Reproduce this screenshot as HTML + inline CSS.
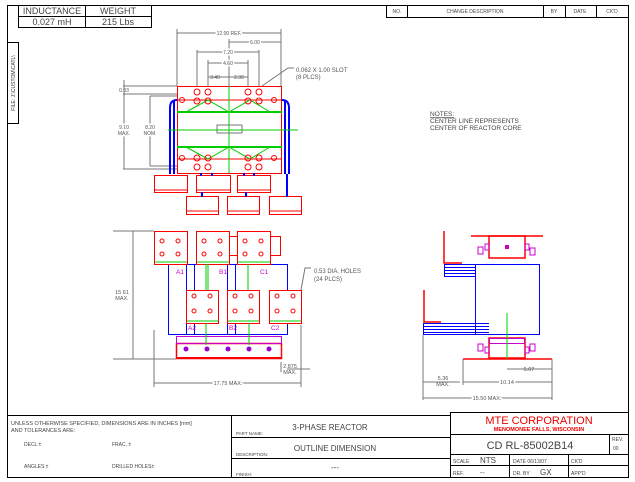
<!DOCTYPE html>
<html><head><meta charset="utf-8"><style>
html,body{margin:0;padding:0;background:#fff;}
svg{display:block;}
text{font-family:"Liberation Sans",sans-serif;}
</style></head><body>
<svg width="635" height="482" viewBox="0 0 635 482" xmlns="http://www.w3.org/2000/svg">
<g fill="none" stroke="#000" stroke-width="1">
<rect x="7.5" y="5.5" width="621" height="472"/>
<!-- inductance table -->
<rect x="18.5" y="5.5" width="133" height="22"/>
<line x1="85.5" y1="5" x2="85.5" y2="27"/>
<line x1="18" y1="16.5" x2="151" y2="16.5"/>
<rect x="7.5" y="42.5" width="11" height="81"/>
<!-- change table -->
<rect x="386.5" y="5.5" width="242" height="12"/>
<line x1="407.5" y1="5" x2="407.5" y2="17"/>
<line x1="543.5" y1="5" x2="543.5" y2="17"/>
<line x1="565.5" y1="5" x2="565.5" y2="17"/>
<line x1="596.5" y1="5" x2="596.5" y2="17"/>
<!-- title block -->
<line x1="7" y1="415.5" x2="450" y2="415.5"/>
<line x1="231.5" y1="415" x2="231.5" y2="478"/>
<line x1="231" y1="437.5" x2="450" y2="437.5"/>
<line x1="231" y1="458.5" x2="450" y2="458.5"/>
<rect x="450.5" y="412.5" width="178" height="65"/>
<line x1="450" y1="434.5" x2="628" y2="434.5"/>
<line x1="450" y1="454.5" x2="628" y2="454.5"/>
<line x1="450" y1="465.5" x2="628" y2="465.5"/>
<line x1="609.5" y1="434" x2="609.5" y2="454"/>
<line x1="509.5" y1="454" x2="509.5" y2="478"/>
<line x1="568.5" y1="454" x2="568.5" y2="478"/>
</g>
<g font-size="9" fill="#444" text-anchor="middle">
<text x="52" y="14">INDUCTANCE</text><text x="118" y="14">WEIGHT</text>
<text x="52" y="25">0.027 mH</text><text x="118" y="25">215 Lbs</text>
</g>
<text x="15" y="83" font-size="5" fill="#333" text-anchor="middle" transform="rotate(-90 15 83)">FILE: J:\CUSTOM\CATL\</text>
<g font-size="5" fill="#444" text-anchor="middle">
<text x="397" y="13">NO.</text><text x="475" y="13">CHANGE DESCRIPTION</text><text x="554" y="13">BY</text><text x="580" y="13">DATE</text><text x="612" y="13">CK'D</text>
</g>
<g font-size="6.5" fill="#444">
<text x="430" y="116" text-decoration="underline">NOTES:</text>
<text x="430" y="123">CENTER LINE REPRESENTS</text>
<text x="430" y="130">CENTER OF REACTOR CORE</text>
<text x="11" y="425" font-size="5.5">UNLESS OTHERWISE SPECIFIED, DIMENSIONS ARE IN INCHES [mm]</text>
<text x="11" y="432" font-size="5.5">AND TOLERANCES ARE:</text>
<text x="24" y="446" font-size="5">DECL ±</text><text x="112" y="446" font-size="5">FRAC. ±</text>
<text x="24" y="468" font-size="5">ANGLES ±</text><text x="112" y="468" font-size="5">DRILLED HOLES±</text>
<text x="236" y="435" font-size="4.5">PART NAME:</text>
<text x="236" y="456" font-size="4.5">DESCRIPTION:</text>
<text x="236" y="476" font-size="4.5">FINISH:</text>
<text x="330" y="430" font-size="8" text-anchor="middle">3-PHASE REACTOR</text>
<text x="335" y="451" font-size="8" text-anchor="middle">OUTLINE DIMENSION</text>
<text x="335" y="470" font-size="8" text-anchor="middle">---</text>
<text x="539" y="424" font-size="11" fill="#e00" text-anchor="middle">MTE CORPORATION</text>
<text x="539" y="431" font-size="5.5" fill="#e00" text-anchor="middle" font-weight="bold">MENOMONEE FALLS, WISCONSIN</text>
<text x="530" y="449" font-size="11" text-anchor="middle">CD RL-85002B14</text>
<text x="612" y="441" font-size="5">REV.</text><text x="613" y="450" font-size="5">00</text>
<text x="453" y="463" font-size="5">SCALE</text><text x="480" y="463" font-size="8">NTS</text>
<text x="513" y="463" font-size="5">DATE 06/13/07</text><text x="571" y="463" font-size="5">CK'D</text>
<text x="453" y="475" font-size="5">REF.</text><text x="480" y="475" font-size="7">--</text>
<text x="513" y="475" font-size="5">DR. BY</text><text x="540" y="475" font-size="8">GX</text><text x="571" y="475" font-size="5">APP'D</text>
</g>
<!-- TOP VIEW -->
<g stroke="#777" stroke-width="1" fill="none">
<line x1="177" y1="33" x2="281" y2="33"/><line x1="177" y1="29" x2="177" y2="86"/><line x1="281" y1="29" x2="281" y2="86"/>
<line x1="229" y1="42" x2="281" y2="42"/><line x1="229" y1="39" x2="229" y2="86"/>
<line x1="197" y1="52" x2="259" y2="52"/><line x1="197" y1="50" x2="197" y2="86"/><line x1="259" y1="50" x2="259" y2="86"/>
<line x1="208" y1="63" x2="248" y2="63"/><line x1="208" y1="60" x2="208" y2="86"/><line x1="248" y1="60" x2="248" y2="86"/>
<line x1="208" y1="77" x2="248" y2="77"/>
<line x1="123" y1="86" x2="177" y2="86"/><line x1="123" y1="94" x2="177" y2="94"/>
<line x1="123" y1="169" x2="177" y2="169"/><line x1="150" y1="96" x2="177" y2="96"/><line x1="150" y1="166" x2="177" y2="166"/>
<line x1="124" y1="80" x2="124" y2="169"/><line x1="150" y1="96" x2="150" y2="166"/>
<polyline points="262,86 288,68 294,68"/>
</g>
<g font-size="5" fill="#555" text-anchor="middle">
<text x="229" y="35" fill="#555" style="paint-order:stroke" stroke="#fff" stroke-width="3">12.00 REF.</text>
<text x="255" y="44" stroke="#fff" stroke-width="3" style="paint-order:stroke">6.00</text>
<text x="228" y="54" stroke="#fff" stroke-width="3" style="paint-order:stroke">7.20</text>
<text x="228" y="65" stroke="#fff" stroke-width="3" style="paint-order:stroke">4.60</text>
<text x="215" y="79">3.40</text><text x="239" y="79">2.30</text>
<text x="124" y="92">0.33</text>
<text x="124" y="129" stroke="#fff" stroke-width="3" style="paint-order:stroke">9.10</text><text x="124" y="135" stroke="#fff" stroke-width="3" style="paint-order:stroke">MAX.</text>
<text x="150" y="129" stroke="#fff" stroke-width="3" style="paint-order:stroke">8.20</text><text x="150" y="135" stroke="#fff" stroke-width="3" style="paint-order:stroke">NOM.</text>
<text x="296" y="72" text-anchor="start" font-size="6">0.062 X 1.00 SLOT</text>
<text x="296" y="79" text-anchor="start" font-size="6">(8 PLCS)</text>
</g>
<g fill="none">
<path d="M177,100 Q170,100 170,108 V174 M174,100 V174 M282,100 Q289,100 289,108 V174 M285,100 V174" stroke="#00f" stroke-width="2"/>
<rect x="177.5" y="86.5" width="104" height="87" stroke="#f00"/>
<line x1="177" y1="100" x2="282" y2="100" stroke="#f00"/>
<line x1="177" y1="159" x2="282" y2="159" stroke="#f00"/>
<line x1="177" y1="112" x2="282" y2="112" stroke="#0c0" stroke-width="2"/>
<line x1="177" y1="147" x2="282" y2="147" stroke="#0c0" stroke-width="2"/>
<line x1="168" y1="130" x2="298" y2="130" stroke="#0c0"/>
<line x1="229" y1="86" x2="229" y2="173" stroke="#0c0"/>
<polyline points="186,112 208,100 229,112 250,100 270,112" stroke="#0c0"/>
<polyline points="186,147 208,159 229,147 250,159 270,147" stroke="#0c0"/>
<rect x="217" y="125" width="25" height="8" stroke="#777"/>
<g stroke="#f00"><circle cx="197" cy="92" r="3"/><circle cx="208" cy="92" r="3"/><circle cx="248" cy="92" r="3"/><circle cx="259" cy="92" r="3"/>
<circle cx="197" cy="101" r="3"/><circle cx="208" cy="101" r="3"/><circle cx="248" cy="101" r="3"/><circle cx="259" cy="101" r="3"/>
<circle cx="197" cy="158" r="3"/><circle cx="208" cy="158" r="3"/><circle cx="248" cy="158" r="3"/><circle cx="259" cy="158" r="3"/>
<circle cx="197" cy="167" r="3"/><circle cx="208" cy="167" r="3"/><circle cx="248" cy="167" r="3"/><circle cx="259" cy="167" r="3"/>
<circle cx="182" cy="100" r="2.5"/><circle cx="182" cy="158" r="2.5"/><circle cx="274" cy="100" r="2.5"/><circle cx="274" cy="158" r="2.5"/></g>
<g stroke="#f00">
<rect x="154.5" y="175.5" width="33" height="17"/><rect x="196.5" y="175.5" width="34" height="17"/><rect x="237.5" y="175.5" width="33" height="17"/>
<rect x="186.5" y="196.5" width="32" height="18"/><rect x="227.5" y="196.5" width="32" height="18"/><rect x="269.5" y="196.5" width="32" height="18"/>
<line x1="154" y1="190" x2="188" y2="190"/><line x1="196" y1="190" x2="231" y2="190"/><line x1="237" y1="190" x2="271" y2="190"/>
<line x1="186" y1="211" x2="219" y2="211"/><line x1="227" y1="211" x2="260" y2="211"/><line x1="269" y1="211" x2="302" y2="211"/>
</g>
<g stroke="#00f" stroke-width="2"><line x1="201" y1="173" x2="201" y2="176"/><line x1="212" y1="173" x2="212" y2="176"/><line x1="244" y1="173" x2="244" y2="176"/><line x1="254" y1="173" x2="254" y2="176"/>
<line x1="202" y1="192" x2="202" y2="197"/><line x1="246" y1="192" x2="246" y2="197"/><line x1="287" y1="174" x2="287" y2="197"/></g>
</g>
<!-- FRONT VIEW -->
<g fill="none">
<rect x="168.5" y="264.5" width="119" height="70" stroke="#00f"/>
<rect x="186.5" y="264.5" width="8" height="70" stroke="#00f"/>
<rect x="227.5" y="264.5" width="8" height="70" stroke="#00f"/>
<rect x="176.5" y="343.5" width="105" height="15" stroke="#f00" stroke-width="1.5"/>
<line x1="176" y1="358" x2="282" y2="358" stroke="#f00" stroke-width="2"/>
<rect x="176.5" y="336.5" width="105" height="7" stroke="#c0c"/>
<g stroke="#f00" fill="#fff">
<rect x="198.5" y="236.5" width="40" height="19"/><rect x="240.5" y="236.5" width="40" height="19"/>
<rect x="154.5" y="231.5" width="33" height="33"/><rect x="196.5" y="231.5" width="33" height="33"/><rect x="237.5" y="231.5" width="33" height="33"/>
<rect x="186.5" y="290.5" width="32" height="33"/><rect x="227.5" y="290.5" width="32" height="33"/><rect x="269.5" y="290.5" width="32" height="33"/>
</g>
<g stroke="#0c0"><line x1="155" y1="262" x2="187" y2="262"/><line x1="197" y1="262" x2="229" y2="262"/><line x1="238" y1="262" x2="270" y2="262"/>
<line x1="187" y1="321" x2="218" y2="321"/><line x1="228" y1="321" x2="259" y2="321"/><line x1="270" y1="321" x2="301" y2="321"/>
<line x1="206" y1="264" x2="206" y2="290"/><line x1="208" y1="264" x2="208" y2="290"/><line x1="206" y1="323" x2="206" y2="345"/><line x1="248" y1="264" x2="248" y2="290"/><line x1="249" y1="323" x2="249" y2="345"/></g>
<g stroke="#f00"><circle cx="162" cy="241" r="2"/><circle cx="178" cy="241" r="2"/><circle cx="162" cy="254" r="2"/><circle cx="178" cy="254" r="2"/>
<circle cx="204" cy="241" r="2"/><circle cx="220" cy="241" r="2"/><circle cx="204" cy="254" r="2"/><circle cx="220" cy="254" r="2"/>
<circle cx="245" cy="241" r="2"/><circle cx="261" cy="241" r="2"/><circle cx="245" cy="254" r="2"/><circle cx="261" cy="254" r="2"/>
<circle cx="194" cy="296" r="2"/><circle cx="210" cy="296" r="2"/><circle cx="194" cy="311" r="2"/><circle cx="210" cy="311" r="2"/>
<circle cx="235" cy="296" r="2"/><circle cx="251" cy="296" r="2"/><circle cx="235" cy="311" r="2"/><circle cx="251" cy="311" r="2"/>
<circle cx="277" cy="296" r="2"/><circle cx="293" cy="296" r="2"/><circle cx="277" cy="311" r="2"/><circle cx="293" cy="311" r="2"/></g>
<g fill="#90c"><circle cx="186" cy="349" r="2.5"/><circle cx="207" cy="349" r="2.5"/><circle cx="228" cy="349" r="2.5"/><circle cx="249" cy="349" r="2.5"/><circle cx="269" cy="349" r="2.5"/></g>
<g stroke="#777"><line x1="154" y1="383" x2="301" y2="383"/><line x1="154" y1="330" x2="154" y2="387"/><line x1="301" y1="325" x2="301" y2="387"/>
<line x1="287" y1="369" x2="310" y2="369"/><line x1="281" y1="362" x2="281" y2="372"/>
<line x1="113" y1="231" x2="154" y2="231"/><line x1="113" y1="359" x2="176" y2="359"/><line x1="133" y1="231" x2="133" y2="359"/>
<polyline points="301,290 305,268 311,268"/></g>
</g>
<g font-size="6.5" fill="#c0c"><text x="176" y="274">A1</text><text x="219" y="274">B1</text><text x="260" y="274">C1</text>
<text x="188" y="330">A2</text><text x="229" y="330">B2</text><text x="271" y="330">C2</text></g>
<g font-size="5.5" fill="#555" text-anchor="middle">
<text x="228" y="385" stroke="#fff" stroke-width="3" style="paint-order:stroke">17.75 MAX.</text>
<text x="290" y="368">2.875</text><text x="290" y="374">MAX.</text>
<text x="122" y="294" stroke="#fff" stroke-width="3" style="paint-order:stroke">15.61</text><text x="122" y="300" stroke="#fff" stroke-width="3" style="paint-order:stroke">MAX.</text>
<text x="314" y="273" text-anchor="start" font-size="6">0.53 DIA. HOLES</text>
<text x="314" y="281" text-anchor="start" font-size="6">(24 PLCS)</text>
</g>
<!-- SIDE VIEW -->
<g fill="none">
<rect x="475.5" y="264.5" width="64" height="70" stroke="#00f"/>
<g stroke="#00f"><line x1="444" y1="264.5" x2="475" y2="264.5"/><line x1="444" y1="267.5" x2="475" y2="267.5"/><line x1="444" y1="270.5" x2="475" y2="270.5"/><line x1="444" y1="273.5" x2="475" y2="273.5"/><line x1="444" y1="276.5" x2="475" y2="276.5"/><line x1="444.5" y1="264" x2="444.5" y2="276"/>
<line x1="423" y1="323.5" x2="489" y2="323.5"/><line x1="423" y1="326.5" x2="489" y2="326.5"/><line x1="423" y1="329.5" x2="489" y2="329.5"/><line x1="423" y1="332.5" x2="489" y2="332.5"/><line x1="423" y1="334.5" x2="475" y2="334.5"/><line x1="423.5" y1="323" x2="423.5" y2="335"/></g>
<g stroke="#f00" stroke-width="1.5">
<rect x="489" y="236" width="36" height="22"/><rect x="489" y="338" width="36" height="20"/>
<line x1="471" y1="236" x2="543" y2="236"/><line x1="463" y1="359" x2="552" y2="359"/>
<polyline points="444,231 444,263 462,263"/><polyline points="424,290 424,322 441,322"/>
</g>
<rect x="489.5" y="338.5" width="35" height="5" stroke="#c0c"/>
<line x1="507" y1="313" x2="507" y2="359" stroke="#0c0"/>
<g stroke="#c0c"><rect x="478" y="247" width="5" height="7"/><rect x="485" y="244" width="4" height="6"/><rect x="525" y="244" width="4" height="6"/><rect x="530" y="248" width="5" height="7"/>
<rect x="478" y="344" width="5" height="7"/><rect x="485" y="347" width="4" height="6"/><rect x="525" y="347" width="4" height="6"/><rect x="530" y="344" width="5" height="7"/></g>
<rect x="505" y="245" width="4" height="4" fill="#c0c"/>
<g stroke="#777"><line x1="423" y1="398" x2="552" y2="398"/><line x1="463" y1="382" x2="552" y2="382"/><line x1="423" y1="382" x2="460" y2="382"/><line x1="507" y1="369" x2="552" y2="369"/>
<line x1="423" y1="335" x2="423" y2="400"/><line x1="463" y1="359" x2="463" y2="385"/><line x1="552" y1="359" x2="552" y2="400"/></g>
</g>
<g font-size="5.5" fill="#555" text-anchor="middle">
<text x="487" y="400" stroke="#fff" stroke-width="3" style="paint-order:stroke">15.50 MAX.</text>
<text x="507" y="384" stroke="#fff" stroke-width="3" style="paint-order:stroke">10.14</text>
<text x="529" y="371">5.07</text>
<text x="443" y="380">5.36</text><text x="443" y="386">MAX.</text>
</g>
</svg>
</body></html>
